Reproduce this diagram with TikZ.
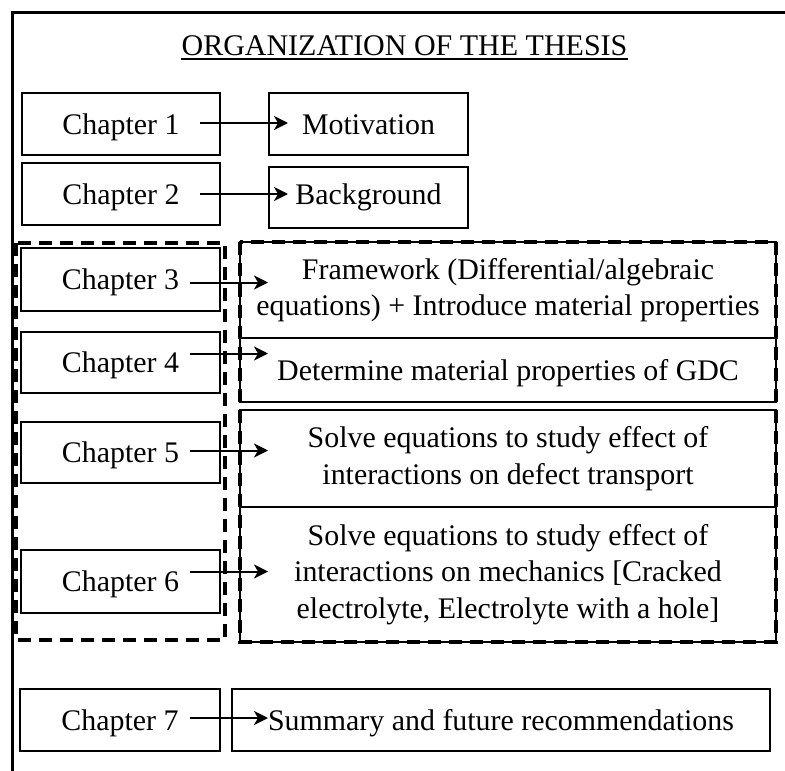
\documentclass[tikz,border=0pt]{standalone}
\usepackage{fontspec}
\setmainfont{Liberation Serif}
\usetikzlibrary{arrows.meta}
\begin{document}
\begin{tikzpicture}[x=1pt,y=-1pt,
  txt/.style={font=\fontsize{29.9}{36.5}\selectfont},
  box/.style={draw, line width=2pt, inner sep=0pt, outer sep=0pt, anchor=north west, txt, align=center},
  one/.style={text height=20.5pt, text depth=0pt},
  grp/.style={draw, dash pattern=on 13pt off 8pt, line width=3.5pt},
  arr/.style={line width=2pt, -{Stealth[length=14pt,width=14pt,inset=4pt]}}]
\useasboundingbox (0,0) rectangle (785,771);
% outer frame (top and left)
\draw[line width=3pt] (785,12) -- (12,12) -- (12,771);
% title
\node[font=\fontsize{30}{36}\selectfont, inner sep=0pt, anchor=base] (title) at (404.5,55) {ORGANIZATION OF THE THESIS};
\draw[line width=2pt] ([yshift=-4pt]title.base west) -- ([yshift=-4pt]title.base east);
% chapter boxes
\node[box, one, minimum width=198pt, minimum height=62pt] (c1) at (22,93) {Chapter 1};
\node[box, one, minimum width=198pt, minimum height=62pt] (c2) at (22,163) {Chapter 2};
\node[box, one, minimum width=199pt, minimum height=63pt] (c3) at (21,248) {Chapter 3};
\node[box, one, minimum width=199pt, minimum height=61pt] (c4) at (21,332) {Chapter 4};
\node[box, one, minimum width=199pt, minimum height=61pt] (c5) at (21,422) {Chapter 5};
\node[box, one, minimum width=199pt, minimum height=63pt] (c6) at (21,550) {Chapter 6};
\node[box, one, minimum width=200pt, minimum height=62pt] (c7) at (20,689) {Chapter 7};
% content boxes
\node[box, one, minimum width=199pt, minimum height=62pt] (mot) at (269,93) {Motivation};
\node[box, minimum width=199pt, minimum height=61pt] (bg) at (269,167) {Background};
\node[box, minimum width=536pt, minimum height=96pt] (fw) at (240,242) {Framework (Differential/algebraic\\equations) + Introduce material properties};
\node[box, one, minimum width=536pt, minimum height=64pt] (det) at (240,338) {Determine material properties of GDC};
\node[box, minimum width=536pt, minimum height=97pt] (s1) at (240,410) {Solve equations to study effect of\\interactions on defect transport};
\node[box, minimum width=536pt, minimum height=135pt] (s2) at (240,507) {Solve equations to study effect of\\interactions on mechanics [Cracked\\electrolyte, Electrolyte with a hole]};
\node[box, one, minimum width=538pt, minimum height=62pt] (sum) at (232,689) {Summary and future recommendations};
% dashed groups
\draw[grp] (16,243) rectangle (225,640);
\draw[grp] (240,242) rectangle (776,642);
% arrows
\draw[arr, shorten >=-19pt] ([xshift=-20pt,yshift=1pt]c1.east) -- ([yshift=1pt]c1.east -| mot.west);
\draw[arr, shorten >=-19pt] ([xshift=-20pt]c2.east) -- (c2.east -| bg.west);
\draw[arr, shorten >=-28pt] ([xshift=-30pt,yshift=-3pt]c3.east) -- ([yshift=-3pt]c3.east -| fw.west);
\draw[arr, shorten >=-28pt] ([xshift=-30pt,yshift=9pt]c4.east) -- ([yshift=9pt]c4.east -| det.west);
\draw[arr, shorten >=-28pt] ([xshift=-30pt,yshift=2pt]c5.east) -- ([yshift=2pt]c5.east -| s1.west);
\draw[arr, shorten >=-28pt] ([xshift=-30pt,yshift=10pt]c6.east) -- ([yshift=10pt]c6.east -| s2.west);
\draw[arr, shorten >=-36pt] ([xshift=-30pt,yshift=2pt]c7.east) -- ([yshift=2pt]c7.east -| sum.west);
\end{tikzpicture}
\end{document}
